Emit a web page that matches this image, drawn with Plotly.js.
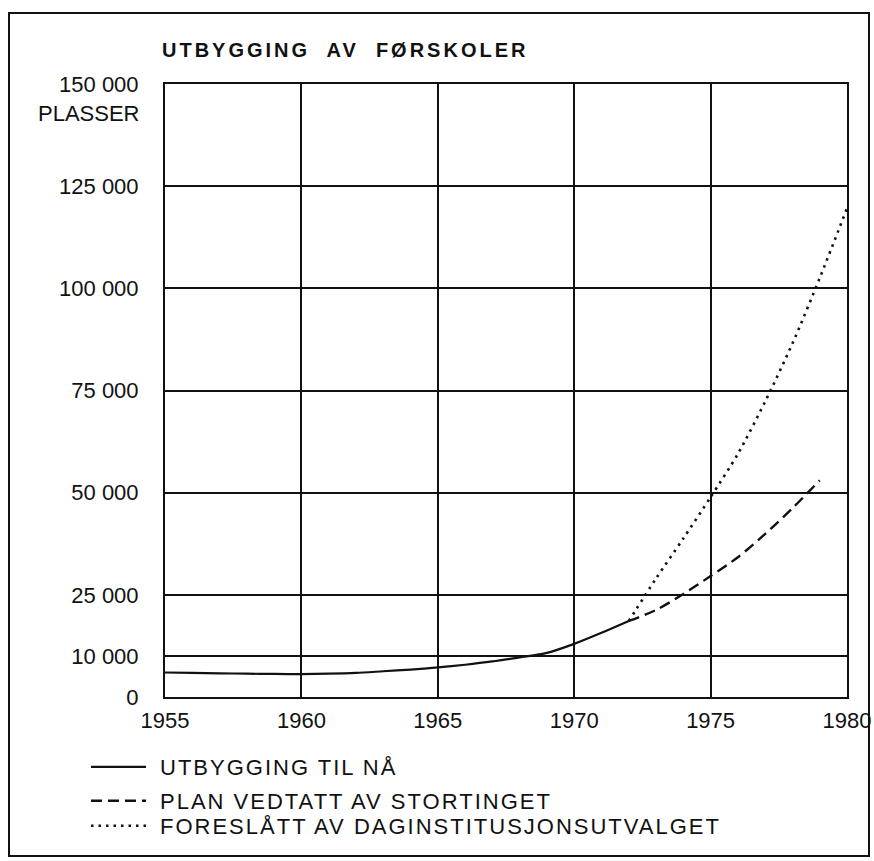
<!DOCTYPE html>
<html>
<head>
<meta charset="utf-8">
<script src="https://cdn.plot.ly/plotly-3.0.1.min.js"></script>
<style>
  html, body { margin: 0; padding: 0; background: #fff; }
  #chart { width: 874px; height: 861px; }
  .gtitle { letter-spacing: 3px; }
  .infolayer [class*="legend"] text { letter-spacing: 2px; transform: translateX(9px); }
  .infolayer [class*="legend"] .scrollbox { clip-path: none !important; }
</style>
</head>
<body>
<div id="chart"></div>
<script>
// ---- data ----
const yearsActual = [1955,1956,1957,1958,1959,1960,1961,1962,1963,1964,1965,1966,1967,1968,1969,1970,1971,1972];
const valuesActual = [6000,5900,5800,5700,5650,5600,5700,5900,6300,6700,7250,7900,8700,9700,10800,13000,15700,18600];

const yearsPlan = [1972,1973,1974,1975,1976,1977,1978,1979];
const valuesPlan = [18600,21300,25200,29600,34200,39900,46200,53000];

const yearsProposal = [1972,1973,1974,1975,1976,1977,1978,1979,1980];
const valuesProposal = [18600,29000,38800,48900,59500,72300,86500,102500,119600];

const seriesNames = ["UTBYGGING TIL NÅ", "PLAN VEDTATT AV STORTINGET", "FORESLÅTT AV DAGINSTITUSJONSUTVALGET"];

const xTickVals = [1955,1960,1965,1970,1975,1980];
const xTickText = ["1955","1960","1965","1970","1975","1980"];
const yTickVals = [0,10000,25000,50000,75000,100000,125000,150000];
const yTickText = ["0","10 000","25 000","50 000","75 000","100 000","125 000","150 000"];

const chartTitle = "UTBYGGING\u00a0 AV\u00a0 FØRSKOLER";
const yUnit = "PLASSER";

// ---- chart ----
const FONT = "Liberation Sans, Arial, Helvetica, sans-serif";
const INK = "#111111";

const traces = [
  { x: yearsActual, y: valuesActual, name: seriesNames[0], mode: "lines", legend: "legend",
    line: { color: INK, width: 2.2, shape: "spline", smoothing: 0.8 } },
  { x: yearsPlan, y: valuesPlan, name: seriesNames[1], mode: "lines", legend: "legend2",
    line: { color: INK, width: 2.4, dash: "11px,6px", shape: "spline", smoothing: 0.8 } },
  { x: yearsProposal, y: valuesProposal, name: seriesNames[2], mode: "lines", legend: "legend3",
    line: { color: INK, width: 2.6, dash: "2.5px,5px", shape: "spline", smoothing: 0.8 } }
];

const axisCommon = {
  showgrid: true, gridcolor: INK, gridwidth: 2,
  showline: true, linecolor: INK, linewidth: 2, mirror: true,
  zeroline: false, ticks: "", fixedrange: true, automargin: false,
  ticklabeloverflow: "allow",
  tickfont: { family: FONT, size: 22, color: INK }
};

function legendAt(centerY) {
  return {
    x: (86 - 165) / 682, xanchor: "left",
    y: (697 - (centerY - 18)) / 613, yanchor: "top",
    font: { family: FONT, size: 22, color: INK },
    bgcolor: "rgba(0,0,0,0)", itemwidth: 55
  };
}

const layout = {
  width: 874, height: 861,
  margin: { l: 165, r: 27, t: 84, b: 164, autoexpand: false },
  paper_bgcolor: "#ffffff", plot_bgcolor: "#ffffff",
  font: { family: FONT, color: INK },
  title: {
    text: chartTitle,
    font: { family: FONT, size: 20, color: INK, weight: "bold" },
    xref: "container", yref: "container",
    x: 162 / 874, xanchor: "left",
    y: 1 - 50 / 861, yanchor: "middle"
  },
  xaxis: Object.assign({}, axisCommon, {
    range: [1955, 1980], tickvals: xTickVals, ticktext: xTickText,
    ticklabelstandoff: 3
  }),
  yaxis: Object.assign({}, axisCommon, {
    range: [0, 150000], tickvals: yTickVals, ticktext: yTickText,
    ticklabelstandoff: 20
  }),
  showlegend: true,
  legend: legendAt(764),
  legend2: legendAt(798),
  legend3: legendAt(823),
  annotations: [{
    text: yUnit, xref: "paper", yref: "paper",
    x: (142 - 165) / 682, xanchor: "right",
    y: (697 - 114) / 613, yanchor: "middle",
    showarrow: false,
    font: { family: FONT, size: 22, color: INK }
  }],
  shapes: [{
    type: "rect", xref: "paper", yref: "paper",
    x0: (9 - 165) / 682, x1: (869 - 165) / 682,
    y0: (697 - 856) / 613, y1: (697 - 13) / 613,
    line: { color: INK, width: 2 }, fillcolor: "rgba(0,0,0,0)", layer: "below"
  }]
};

Plotly.newPlot("chart", traces, layout, { staticPlot: true, displayModeBar: false });
</script>
</body>
</html>
